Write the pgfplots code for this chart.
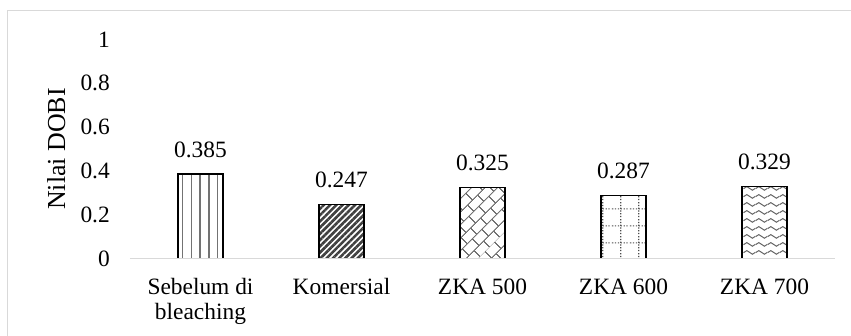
\documentclass[border=0pt]{standalone}
\usepackage{pgfplots}
\pgfplotsset{compat=1.18}
\usepackage{fontspec}
\setmainfont{Liberation Serif}
\usetikzlibrary{patterns,patterns.meta}

% brick pattern laid diagonally
\tikzdeclarepattern{
  name=diagbrick,
  type=uncolored,
  bounding box={(0,0) and (14bp,18bp)},
  tile size={(14bp,18bp)},
  tile transformation={rotate=45},
  code={
    \draw[line width=1.1bp]
      (-1bp,4.5bp) -- (15bp,4.5bp)
      (-1bp,13.5bp) -- (15bp,13.5bp)
      (3.5bp,4.5bp) -- (3.5bp,13.5bp)
      (10.5bp,13.5bp) -- (10.5bp,19bp)
      (10.5bp,-1bp) -- (10.5bp,4.5bp);
  }
}

% dotted grid
\tikzdeclarepattern{
  name=dotgrid,
  type=uncolored,
  bounding box={(0,0) and (18bp,17bp)},
  tile size={(18bp,17bp)},
  code={
    \draw[line width=1.2bp, dash pattern=on 1.3bp off 1.7bp] (0,8.5bp) -- (18bp,8.5bp);
    \draw[line width=1.2bp, dash pattern=on 1.3bp off 1.533bp] (9bp,0) -- (9bp,17bp);
  }
}

% waves
\tikzdeclarepattern{
  name=waves,
  type=uncolored,
  bounding box={(0,0) and (12bp,8bp)},
  tile size={(12bp,8bp)},
  code={
    \draw[line width=1.1bp]
      (-0.5bp,4bp) -- (0,4bp) sin (3bp,6bp) cos (6bp,4bp) sin (9bp,2bp) cos (12bp,4bp) -- (12.5bp,4bp);
  }
}

\begin{document}
\begin{tikzpicture}
\useasboundingbox (-130bp,-77.5bp) rectangle (721bp,258.5bp);
\draw[black!15, line width=1bp] (-122bp,-90bp) -- (-122bp,248bp) -- (740bp,248bp);
\begin{axis}[
  at={(0,0)}, anchor=south west,
  scale only axis,
  width=705bp, height=219bp,
  xmin=-0.5, xmax=4.5, ymin=0, ymax=1,
  axis on top,
  axis x line*=bottom,
  axis y line*=left,
  y axis line style={draw=none},
  x axis line style={draw=black!15, line width=1.6bp},
  major tick length=0pt,
  xtick={0,1,2,3,4},
  xticklabels={{Sebelum di\\bleaching},Komersial,ZKA 500,ZKA 600,ZKA 700},
  ytick={0,0.2,0.4,0.6,0.8,1},
  yticklabels={0,0.2,0.4,0.6,0.8,1},
  tick label style={font=\fontsize{23.5}{25}\selectfont, text=black},
  xticklabel style={anchor=north, align=center, inner sep=0pt, yshift=-20bp},
  yticklabel style={anchor=east, inner sep=0pt, xshift=-20bp},
  ylabel={\fontsize{26}{28}\selectfont Nilai DOBI},
  ylabel style={at={(axis description cs:-0.0922,0.5)}, anchor=base, inner sep=0pt},
  ybar,
  bar width=45bp,
  point meta=explicit symbolic,
  nodes near coords,
  nodes near coords style={anchor=south, inner sep=0pt, yshift=16bp,
    font=\fontsize{23.5}{25}\selectfont, text=black},
]
\addplot[bar shift=0pt, draw=black, line width=1.6bp,
  pattern={Lines[angle=90,distance=8.7bp,line width=1.4bp]}, pattern color=black!55]
  coordinates {(0,0.385)[0.385]};
\addplot[bar shift=0pt, draw=black, line width=1.6bp,
  pattern={Lines[angle=45,distance=4.4bp,line width=2.6bp]}, pattern color=black!75]
  coordinates {(1,0.247)[0.247]};
\addplot[bar shift=0pt, draw=black, line width=1.6bp,
  pattern=diagbrick, pattern color=black!55]
  coordinates {(2,0.325)[0.325]};
\addplot[bar shift=0pt, draw=black, line width=1.6bp,
  pattern=dotgrid, pattern color=black!70]
  coordinates {(3,0.287)[0.287]};
\addplot[bar shift=0pt, draw=black, line width=1.6bp,
  pattern=waves, pattern color=black!60]
  coordinates {(4,0.329)[0.329]};
\end{axis}
\end{tikzpicture}
\end{document}
